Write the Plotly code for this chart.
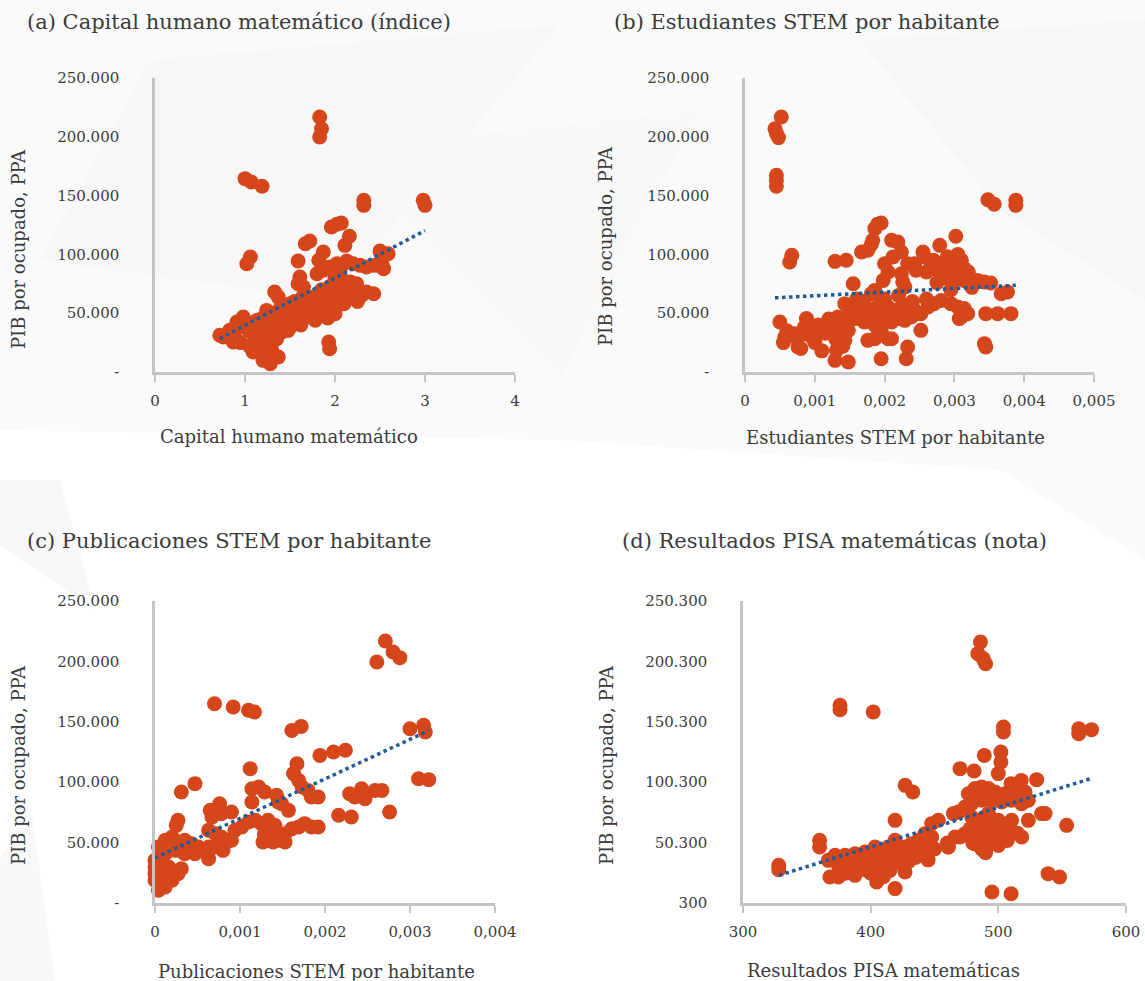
import numpy as np
import plotly.graph_objects as go

# ---------------- DATA ----------------
# (a) Capital humano matemático (índice) vs PIB por ocupado (miles, PPA)
cap_x = [1.83,1.85,1.83, 1.00,1.07,1.19, 2.32,2.32, 2.98,3.00, 1.96,2.02,2.07, 2.16,2.11, 1.67,1.72,
         1.06,1.02, 1.87,1.82, 1.59, 2.50,2.59, 2.02,2.13,2.20,2.28,2.35,2.44,2.52,2.54,
         1.80,1.87,1.94,2.06, 1.61,1.59,1.65, 2.09,2.17,2.24,2.13,2.20,2.30,2.43, 1.33,1.37,
         1.69,1.76,1.83,1.91,1.94,2.00,1.87,1.80, 1.50,1.54,1.61,1.67, 1.24,1.32,1.39,1.44,1.50,1.57,
         1.13,1.19,1.06,0.98,0.91,0.94, 0.83,0.87,0.76,0.72, 1.04,1.09,1.15,1.48, 0.87,0.91,
         1.13,1.24,1.28,1.17,1.09,1.24,1.30,1.20,1.28,1.37, 1.93,1.94, 1.35,1.41,
         1.40,1.55,1.70,1.75,1.85,1.65,1.20,1.30,2.05,2.10,2.00,1.95,1.45,1.25,
         0.95,1.05,1.15,1.25,1.35,
         1.45,1.55,1.62,1.70,1.78,1.85,1.92,1.58,1.68,1.75,1.50,1.40,
         2.05,2.15,2.25,2.35,2.10,2.20]
cap_y = [216.8,206.9,199.8, 164.4,161.6,157.9, 146.0,141.7, 146.0,141.7, 123.3,125.6,126.6, 115.4,107.7, 109.1,111.4,
         97.8,92.1, 102.0,95.0, 94.4, 102.9,100.6, 92.1,94.4,92.1,90.7,89.3,90.7,92.1,87.9,
         83.6,86.5,89.3,87.9, 80.8,75.1,72.3, 77.9,76.5,75.1,69.4,66.6,65.2,66.6, 68.0,63.8,
         62.4,63.8,60.9,63.8,58.1,49.6,49.6,55.3, 58.1,53.9,55.3,49.6, 52.4,49.6,53.9,46.8,43.9,45.4,
         43.9,45.4,41.1,46.8,42.5,38.3, 35.4,32.6,29.8,31.2, 35.4,32.6,32.6,35.4, 25.5,26.9,
         28.3,29.8,24.1,21.3,17.0,15.6,18.4,9.9,7.1,12.8, 25.5,19.8, 38.3,34.0,
         45,60,58,52,70,65,38,40,70,62,80,73,55,35,
         25,22,30,20,28,
         42,45,40,47,44,50,46,52,50,55,38,36,
         62,65,60,68,58,70]

# (b) Estudiantes STEM por habitante (milésimas) vs PIB por ocupado (miles)
est_x = [0.52,0.43,0.45,0.48, 0.45,0.45,0.45, 3.48,3.57, 3.88,3.88, 1.90,1.86,1.95,
         1.83,1.81,2.10,2.19,2.24, 1.67,1.76, 3.02, 2.79, 2.55,2.57, 0.67,0.64, 1.29,1.45,
         2.00,2.12,2.05,1.98, 2.33,2.43,2.45,2.24,2.26,2.29,
         2.67,2.71,2.86,2.98,3.05,3.14,2.95,3.00,3.14, 3.33,3.43,3.52, 3.67,3.76, 1.55, 1.86,1.81,
         1.43,1.52,1.62,1.76,1.86,1.95,2.05,2.14,2.24,2.33,2.43,2.52,2.62,2.71,2.81,
         1.33,1.43,1.57,1.71,1.81,1.90,2.00,2.10,2.19,2.29,2.38,2.48,1.95,1.86,
         2.95,3.05,3.14,3.19,3.10,3.07, 3.45,3.62,3.81, 3.43,3.45, 2.52,
         0.50,0.57,0.76,0.71,0.88,0.88,1.02,1.10,1.19,1.29,1.38,1.48,
         1.76,1.86,2.05,2.10,2.33,1.31,1.29,1.48,1.95,2.31,1.43,
         1.60,1.70,2.00,2.20,2.40,2.60,1.90,2.10,2.30,1.50,
         0.60,0.75,0.85,0.95,1.05,1.15,1.25,1.35,1.00,1.20,0.90,1.40,
         2.60,2.70,2.80,2.90,3.00,3.10,3.20,2.85,3.05,3.25,2.75,2.95,
         0.55,0.80,1.10,1.30]
est_y = [216.8,206.9,202.7,199.3, 167.2,163.0,157.9, 146.5,142.6, 146.0,141.7, 125.6,121.9,126.7,
         112.0,108.6,112.0,110.5,102.0, 102.0,103.5, 115.4, 107.7, 102.0,97.8, 99.2,93.5, 94.1,95.0,
         92.1,97.8,85.0,77.9, 92.1,92.1,86.5,83.6,76.5,72.3,
         90.7,87.9,93.5,92.1,90.7,87.9,83.6,77.9,77.9, 77.9,76.5,75.7, 66.6,68.0, 75.1, 69.4,66.6,
         58.1,55.3,52.4,49.6,53.9,58.1,55.3,52.4,55.3,56.7,52.4,49.6,55.3,58.1,60.9,
         46.8,43.9,45.4,42.5,46.8,43.9,46.8,42.5,45.4,43.9,46.8,49.6,35.4,39.7,
         58.1,55.3,53.9,49.6,46.8,45.4, 49.6,49.6,49.6, 24.1,21.3, 35.4,
         42.5,29.8,21.3,32.6,45.4,32.6,34.0,38.3,35.4,38.3,34.0,35.4,
         26.9,28.3,28.3,28.3,21.3,18.4,9.9,8.5,11.3,11.3,26.9,
         62,60,62,65,60,62,55,50,52,50,
         35,28,38,30,40,33,42,30,25,45,42,22,
         85,95,88,98,82,95,85,80,100,72,76,70,
         25,20,18,28]

# (c) Publicaciones STEM por habitante (milésimas) vs PIB por ocupado (miles)
pub_x = [2.71,2.80,2.88,2.61, 0.70,0.92,1.10,1.17, 1.61,1.72, 3.00,3.16,3.18, 1.94,2.10,2.24, 1.12,
         1.67,1.63,1.69,1.73,1.80, 3.10,3.22, 0.31,0.47, 1.14,1.22,1.29,1.43,1.45,1.14, 1.84,1.92,
         2.29,2.43,2.59,2.67,2.47,2.35, 2.76, 2.16,2.31, 0.65,0.76,0.78,0.67,0.90, 0.27,0.25, 1.57,1.49,
         0.63,0.71,0.78,0.86,0.94,1.02,1.10,1.18,1.25,1.33,1.41,1.29,1.37,1.45,1.53,1.61,1.69,1.76,1.84,1.92,
         1.27,1.39,1.53,1.29,
         0.04,0.12,0.20,0.27,0.35,0.43,0.51,0.59,0.63,0.47,0.35,0.24,0.12,0.00,0.00,0.04,0.12,0.20,0.27,0.31,
         0.16,0.08,0.00,0.04,0.12,0.00,
         0.71,0.82,0.90,0.80,0.63]
pub_y = [216.9,207.8,203.1,199.5, 165.0,162.3,159.5,158.1, 142.9,146.2, 144.3,147.1,141.6, 122.2,125.0,126.4, 111.2,
         115.3,107.1,101.5,96.0,93.2, 102.9,102.1, 91.9,98.8, 94.6,96.0,91.9,89.1,83.6,83.6, 87.7,87.7,
         90.5,94.6,93.2,93.2,86.4,87.7, 75.3, 72.6,71.2, 76.7,82.2,73.9,71.2,75.3, 68.4,64.3, 76.7,82.2,
         60.2,57.4,54.6,51.9,60.2,62.9,67.1,68.4,65.7,68.4,64.3,57.4,54.6,51.9,57.4,61.5,62.9,65.7,62.9,62.9,
         50.5,50.5,50.5,56.0,
         46.4,51.9,54.6,50.5,51.9,49.1,46.4,43.6,36.7,40.8,40.8,43.6,40.8,35.3,29.8,24.3,21.5,18.8,24.3,28.4,
         29.8,35.3,18.8,10.5,13.2,24.3,
         46.4,49.1,51.9,43.6,46.4]

# (d) Resultados PISA matemáticas (nota) vs PIB por ocupado (miles)
pisa_x = [486,484,488,490, 376,376, 402, 504,504, 563,563,573, 489,470,481,502,502,500, 427,433, 530,518,510,
          476.5,481.7,486.9,492.2,497.4,505.2,510.4,515.7,520.9,523.5,518.3,510.4,502.6,494.8,486.9,
          479.1,473.9,468.7,464.8,479.1,484.3,492.2,500,507.8,494.8,489.6,481.7,473.9,466.1,460.8,
          481.7,492.2,502.6,510.4,523.5,518.3,533.9,536.6,
          553.5, 539,548, 495,510, 328,328, 360,360,
          366.8,372.1,379.9,387.7,395.6,403.4,408.6,413.8,419.1,421.7,426.9,432.1,437.3,442.6,447.8,
          453.0,447.8,442.6,434.7,439.9,413.8,403.4,393.0,385.1,379.9,374.7,368.1,387.7,398.2,415.1,
          404.7,419.1,426.9,460.8,419.1,
          375,385,395,405,412,420,430,390,400,380,410,425,
          475,482,490,497,505,485,495,478,500,488,
          480,487,493,500,507,515,490,470,460,450,
          395,405,415,425,435,445]
pisa_y = [216.4,206.7,202.6,198.4, 164.0,160.3, 158.4, 146.0,141.9, 144.6,140.5,143.8, 122.5,111.5,109.6,125.3,117.0,107.4,
          97.7,92.2, 102.4,101.8,99.1,
          90.8,95.0,96.3,95.0,92.2,90.8,93.6,90.8,92.2,85.3,82.5,85.3,83.9,85.3,85.3,
          82.5,79.8,75.6,74.3,71.5,68.7,74.3,68.7,66.0,63.2,57.7,54.9,57.7,54.9,46.7,
          49.4,48.0,57.7,68.7,68.7,54.9,74.3,74.3,
          64.6, 24.6,21.8, 9.4,8.0, 31.5,27.9, 52.2,46.7,
          35.6,39.8,39.8,41.1,42.5,46.7,43.9,46.7,52.2,43.9,46.7,49.4,52.2,49.4,54.9,
          68.7,66.0,57.7,43.9,41.1,35.6,35.6,32.9,30.1,27.3,21.8,21.8,23.2,27.3,27.3,
          17.7,12.2,26.0,46.7,68.7,
          30,33,28,35,30,38,35,38,25,25,22,42,
          58,52,60,55,62,65,50,62,58,70,
          50,45,55,48,52,58,42,55,50,45,
          30,28,35,32,38,36]

# Tick labels
y_ticks = [0, 50000, 100000, 150000, 200000, 250000]
y_ticktext = ["-", "50.000", "100.000", "150.000", "200.000", "250.000"]
y_ticks_d = [300, 50300, 100300, 150300, 200300, 250300]
y_ticktext_d = ["300", "50.300", "100.300", "150.300", "200.300", "250.300"]
xa_ticks = [0, 1, 2, 3, 4]
xa_text = ["0", "1", "2", "3", "4"]
xb_ticks = [0, 0.001, 0.002, 0.003, 0.004, 0.005]
xb_text = ["0", "0,001", "0,002", "0,003", "0,004", "0,005"]
xc_ticks = [0, 0.001, 0.002, 0.003, 0.004]
xc_text = ["0", "0,001", "0,002", "0,003", "0,004"]
xd_ticks = [300, 400, 500, 600]
xd_text = ["300", "400", "500", "600"]

titles = ["(a) Capital humano matemático (índice)", "(b) Estudiantes STEM por habitante",
          "(c) Publicaciones STEM por habitante", "(d) Resultados PISA matemáticas (nota)"]
x_titles = ["Capital humano matemático", "Estudiantes STEM por habitante",
            "Publicaciones STEM por habitante", "Resultados PISA matemáticas"]
y_title = "PIB por ocupado, PPA"

# ---------------- STYLE ----------------
W, H = 1145, 981
DOT = "#D5461A"
TREND = "#1F5A97"
TXT = "#3b3b3b"
AXC = "#C4C4C4"
FONT = "DejaVu Serif"

panels = [
    dict(x=np.array(cap_x), y=np.array(cap_y) * 1000, xr=[0, 4], yr=[0, 250000],
         xt=(xa_ticks, xa_text), yt=(y_ticks, y_ticktext), px=(155, 515), py=(372, 78)),
    dict(x=np.array(est_x) / 1000, y=np.array(est_y) * 1000, xr=[0, 0.005], yr=[0, 250000],
         xt=(xb_ticks, xb_text), yt=(y_ticks, y_ticktext), px=(745, 1094), py=(372, 78)),
    dict(x=np.array(pub_x) / 1000, y=np.array(pub_y) * 1000, xr=[0, 0.004], yr=[0, 250000],
         xt=(xc_ticks, xc_text), yt=(y_ticks, y_ticktext), px=(155, 495), py=(903, 601)),
    dict(x=np.array(pisa_x), y=np.array(pisa_y) * 1000, xr=[300, 600], yr=[300, 250300],
         xt=(xd_ticks, xd_text), yt=(y_ticks_d, y_ticktext_d), px=(743, 1126), py=(903, 601)),
]

fig = go.Figure()
layout = dict(width=W, height=H, margin=dict(l=0, r=0, t=0, b=0, pad=0, autoexpand=False),
              template="none",
              paper_bgcolor="white", plot_bgcolor="rgba(0,0,0,0)", showlegend=False,
              font=dict(family=FONT, color=TXT))

for i, p in enumerate(panels):
    n = i + 1
    xa = "x" if n == 1 else f"x{n}"
    ya = "y" if n == 1 else f"y{n}"
    fig.add_trace(go.Scatter(x=p["x"], y=p["y"], mode="markers", xaxis=xa, yaxis=ya,
                             marker=dict(color=DOT, size=15, line=dict(width=0)),
                             cliponaxis=False, hoverinfo="skip"))
    k, b = np.polyfit(p["x"], p["y"], 1)
    tx = np.array([p["x"].min(), p["x"].max()])
    fig.add_trace(go.Scatter(x=tx, y=k * tx + b, mode="lines", xaxis=xa, yaxis=ya,
                             line=dict(color=TREND, width=3.5, dash="dot"),
                             cliponaxis=False, hoverinfo="skip"))
    x0, x1 = p["px"]
    y0, y1 = p["py"]
    layout["xaxis" if n == 1 else f"xaxis{n}"] = dict(
        domain=[x0 / W, x1 / W], range=p["xr"], anchor=ya, automargin=False,
        tickvals=p["xt"][0], ticktext=p["xt"][1],
        showline=True, linecolor=AXC, linewidth=2.5, ticks="outside", ticklen=7,
        tickwidth=2, tickcolor=AXC, showgrid=False, zeroline=False,
        tickfont=dict(size=15, color=TXT, family=FONT), ticklabelstandoff=6)
    layout["yaxis" if n == 1 else f"yaxis{n}"] = dict(
        domain=[1 - y0 / H, 1 - y1 / H], range=p["yr"], anchor=xa, automargin=False,
        tickvals=p["yt"][0], ticktext=p["yt"][1],
        showline=True, linecolor=AXC, linewidth=2.5, ticks="", showgrid=False, zeroline=False,
        tickfont=dict(size=15, color=TXT, family=FONT), ticklabelstandoff=30)

ann = []
title_pos = [(25, 22), (612, 22), (25, 541), (620, 541)]
for t, (tx_, ty_) in zip(titles, title_pos):
    ann.append(dict(text=t, x=tx_ / W, y=1 - ty_ / H, xref="paper", yref="paper",
                    xanchor="left", yanchor="middle", showarrow=False,
                    font=dict(size=21, color=TXT, family=FONT)))
xt_pos = [(289, 436), (895, 437), (316, 971), (883, 970)]
for t, (tx_, ty_) in zip(x_titles, xt_pos):
    ann.append(dict(text=t, x=tx_ / W, y=1 - ty_ / H, xref="paper", yref="paper",
                    xanchor="center", yanchor="middle", showarrow=False,
                    font=dict(size=18, color=TXT, family=FONT)))
yt_pos = [(18, 249), (606, 246), (18, 765), (606, 765)]
for (tx_, ty_) in yt_pos:
    ann.append(dict(text=y_title, x=tx_ / W, y=1 - ty_ / H, xref="paper", yref="paper",
                    xanchor="center", yanchor="middle", showarrow=False, textangle=-90,
                    font=dict(size=18, color=TXT, family=FONT)))
layout["annotations"] = ann


# faint decorative background facets (pixel polygons -> paper coords)
def poly(pts, color):
    path = "M " + " L ".join(f"{x / W:.4f},{1 - y / H:.4f}" for x, y in pts) + " Z"
    return dict(type="path", path=path, xref="paper", yref="paper", layer="below",
                fillcolor=color, line=dict(width=0))


layout["shapes"] = [
    poly([(0, 0), (1145, 0), (1145, 560), (1000, 470), (560, 440), (0, 430)], "#fafafa"),
    poly([(150, 60), (560, 25), (330, 300), (40, 260)], "#f7f7f7"),
    poly([(330, 150), (700, 110), (560, 380)], "#f8f8f8"),
    poly([(860, 40), (1145, 20), (1145, 300), (1000, 210)], "#f6f6f6"),
    poly([(0, 480), (60, 480), (95, 610), (0, 545)], "#f7f7f7"),
    poly([(0, 860), (30, 800), (55, 981), (0, 981)], "#f8f8f8"),
]
fig.update_layout(**layout)
fig.write_html("out.html", config={"displayModeBar": False},
               post_script="document.body.style.margin='0';document.body.style.overflow='hidden';")
